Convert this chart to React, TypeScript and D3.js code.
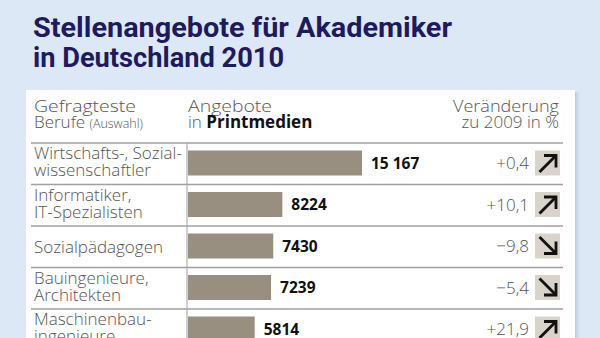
import React from "react";
import * as d3 from "d3";

const categories: string[][] = [
  ["Wirtschafts-, Sozial-", "wissenschaftler"],
  ["Informatiker,", "IT-Spezialisten"],
  ["Sozialpädagogen"],
  ["Bauingenieure,", "Architekten"],
  ["Maschinenbau-", "ingenieure"],
];
const offers: number[] = [15167, 8224, 7430, 7239, 5814];
const offerLabels: string[] = ["15 167", "8224", "7430", "7239", "5814"];
const changes: number[] = [0.4, 10.1, -9.8, -5.4, 21.9];
const changeLabels: string[] = ["+0,4", "+10,1", "\u22129,8", "\u22125,4", "+21,9"];

const W = 600;
const H = 338;
const TITLE = "#1d1b5d";
const GRAY = "#555555";
const BAR = "#988f80";
const BOX = "#d8d3cb";
const FONT = "'Open Sans', 'Noto Sans', sans-serif";

export default function App() {
  const x = d3.scaleLinear().domain([0, d3.max(offers) as number]).range([188, 362]);
  const rowTop = d3.scaleLinear().domain([0, 1]).range([143, 184.5]);
  const rowH = rowTop(1) - rowTop(0);
  const barH = 25;

  return (
    <svg
      width={W}
      height={H}
      viewBox={`0 0 ${W} ${H}`}
      style={{ position: "absolute", left: 0, top: 0, display: "block" }}
    >
      <defs>
        <linearGradient id="shadow" x1="0" x2="1" y1="0" y2="0">
          <stop offset="0" stopColor="#b8c2d0" stopOpacity={0.9} />
          <stop offset="1" stopColor="#dde8f7" stopOpacity={0} />
        </linearGradient>
      </defs>
      <rect x={0} y={0} width={W} height={H} fill="#dde8f7" />
      {/* Title */}
      <text x={33} y={37} fill={TITLE} fontFamily="Roboto, 'Open Sans', sans-serif" fontWeight={700} fontSize={28} textLength={419} lengthAdjust="spacingAndGlyphs">
        Stellenangebote für Akademiker
      </text>
      <text x={33} y={67} fill={TITLE} fontFamily="Roboto, 'Open Sans', sans-serif" fontWeight={700} fontSize={28} textLength={251} lengthAdjust="spacingAndGlyphs">
        in Deutschland 2010
      </text>

      {/* Panel */}
      <rect x={575} y={92} width={7} height={H - 92} fill="url(#shadow)" />
      <rect x={26} y={90} width={549} height={H - 90} fill="#ffffff" />

      {/* Header */}
      <g fontFamily={FONT} fill={GRAY} fontWeight={300}>
        <text x={34} y={112} fontSize={17} textLength={102} lengthAdjust="spacingAndGlyphs">Gefragteste</text>
        <text x={34} y={128} fontSize={17}>
          Berufe <tspan fontSize={12.5}>(Auswahl)</tspan>
        </text>
        <text x={188} y={112} fontSize={17} textLength={84} lengthAdjust="spacingAndGlyphs">Angebote</text>
        <text x={188} y={128} fontSize={17}>
          in <tspan fontWeight={700} fill="#111">Printmedien</tspan>
        </text>
        <text x={559} y={112} fontSize={17} textAnchor="end" textLength={106} lengthAdjust="spacingAndGlyphs">Veränderung</text>
        <text x={559} y={128} fontSize={17} textAnchor="end">zu 2009 in %</text>
      </g>

      {/* Row lines */}
      {offers.map((_, i) => (
        <line key={"l" + i} x1={31} x2={563} y1={rowTop(i)} y2={rowTop(i)} stroke="#a0a0a0" strokeWidth={1.5} />
      ))}
      {/* Vertical axis */}
      <line x1={187} x2={187} y1={rowTop(0)} y2={H} stroke="#a0a0a0" strokeWidth={1} />

      {offers.map((v, i) => {
        const top = rowTop(i);
        const cy = top + rowH / 2;
        const by = top + 7.5;
        const lines = categories[i];
        const up = changes[i] >= 0;
        const bx = 535;
        const boxY = by;
        return (
          <g key={"r" + i}>
            <g fontFamily={FONT} fill={GRAY} fontSize={17} fontWeight={300}>
              {lines.length === 2 ? (
                <>
                  <text x={34} y={top + 16}>{lines[0]}</text>
                  <text x={34} y={top + 33}>{lines[1]}</text>
                </>
              ) : (
                <text x={34} y={cy + 6}>{lines[0]}</text>
              )}
            </g>
            <rect x={x(0)} y={by} width={x(v) - x(0)} height={barH} fill={BAR} />
            <text x={x(v) + 9} y={by + barH / 2 + 5.5} fontFamily={FONT} fontWeight={700} fontSize={15.5} fill="#111">
              {offerLabels[i]}
            </text>
            <text x={529} y={by + barH / 2 + 6} fontFamily={FONT} fontSize={17} fontWeight={300} fill={GRAY} textAnchor="end">
              {changeLabels[i]}
            </text>
            <rect x={bx} y={boxY} width={25} height={barH} fill={BOX} />
            {up ? (
              <g stroke="#111" strokeWidth={2.8} fill="none" strokeLinecap="butt">
                <line x1={bx + 4.5} y1={boxY + 21.5} x2={bx + 20.5} y2={boxY + 5.5} />
                <polyline points={`${bx + 9},${boxY + 5} ${bx + 21},${boxY + 5} ${bx + 21},${boxY + 17}`} />
              </g>
            ) : (
              <g stroke="#111" strokeWidth={2.8} fill="none" strokeLinecap="butt">
                <line x1={bx + 4.5} y1={boxY + 3.5} x2={bx + 20.5} y2={boxY + 19.5} />
                <polyline points={`${bx + 21},${boxY + 8} ${bx + 21},${boxY + 20} ${bx + 9},${boxY + 20}`} />
              </g>
            )}
          </g>
        );
      })}
    </svg>
  );
}
